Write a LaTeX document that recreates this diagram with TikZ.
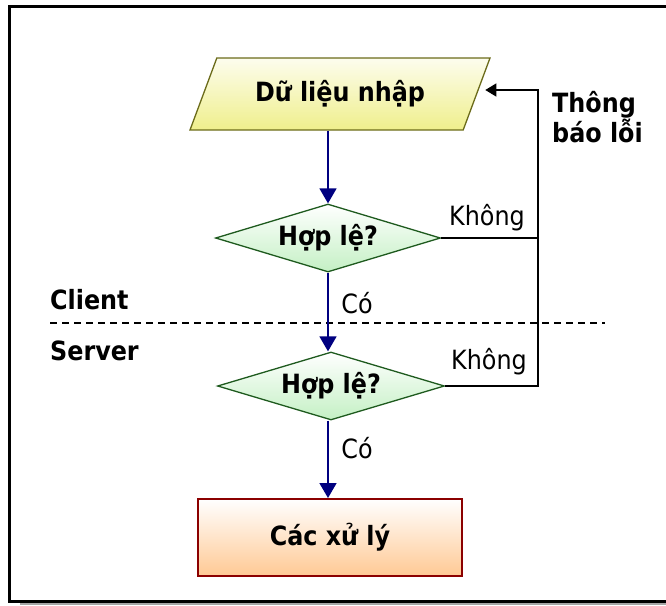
\documentclass[tikz,border=0pt]{standalone}
\usepackage{fontspec}
\setmainfont{DejaVu Sans Condensed}
\usetikzlibrary{shapes.geometric,arrows.meta}
\definecolor{navyc}{HTML}{000080}
\definecolor{olivec}{HTML}{6B6B1A}
\definecolor{yelc}{HTML}{EFEF8C}
\definecolor{grnb}{HTML}{1E5A1E}
\definecolor{grnc}{HTML}{C4F0C4}
\definecolor{redb}{HTML}{8B0000}
\definecolor{peach}{HTML}{FFC994}
\tikzset{
  txt/.style={font=\fontsize{26.5}{30}\selectfont, inner sep=0pt},
  btxt/.style={font=\fontsize{26.5}{30}\selectfont\bfseries, inner sep=0pt},
  inbox/.style={trapezium, trapezium left angle=45, trapezium right angle=135,
    trapezium stretches body, minimum width=300pt, minimum height=72pt, inner sep=0pt,
    draw=olivec, line width=1.3pt, top color=white!85!yelc, bottom color=yelc,
    font=\fontsize{26.5}{30}\selectfont\bfseries},
  decbox/.style={diamond, aspect=3.3, minimum width=225pt, minimum height=68pt, inner sep=0pt,
    draw=grnb, line width=1.3pt, top color=white, bottom color=grnc,
    font=\fontsize{26.5}{30}\selectfont\bfseries},
  procbox/.style={rectangle, minimum width=264pt, minimum height=77pt, inner sep=0pt,
    draw=redb, line width=2pt, top color=white, bottom color=peach,
    font=\fontsize{26.5}{30}\selectfont\bfseries},
  flowarr/.style={draw=navyc, line width=1.6pt, -{Triangle[length=15pt,width=17pt]}},
  backline/.style={draw=black, line width=1.3pt},
  backarr/.style={draw=black, line width=1.3pt, -{Triangle[length=11pt,width=13pt]}},
  sepline/.style={draw=black, line width=1.5pt, dash pattern=on 7pt off 5pt},
}
\begin{document}
\begin{tikzpicture}[x=1pt,y=-1pt]
\useasboundingbox (0,0) rectangle (666,605);
\clip (0,0) rectangle (666,605);
% frame
\draw[gray!70, line width=2pt] (20,604) -- (700,604);
\draw[black, line width=2.2pt] (700,6.5) -- (9.5,6.5) -- (9.5,601.5) -- (700,601.5);
% separator
\coordinate (sepL) at (50,323);
\coordinate (sepR) at (605,323);
\draw[sepline] (sepL) -- (sepR);
\node[btxt, anchor=west] (client) at (50,300) {Client};
\node[btxt, anchor=west] (server) at (50,351) {Server};
% nodes
\node[inbox] (inp) at (340,94) {Dữ liệu nhập};
\node[decbox] (d1) at (328,238) {Hợp lệ?};
\node[decbox, minimum width=227pt] (d2) at (331,386) {Hợp lệ?};
\node[procbox] (proc) at (330,537.5) {Các xử lý};
% flow arrows
\draw[flowarr] (d1.north |- inp.south) -- (d1.north);
\draw[flowarr] (d1.south) -- (d1.south |- d2.north);
\draw[flowarr] (d1.south |- d2.south) -- (d1.south |- proc.north);
\node[txt] (yes1) at (357,303) {Có};
\node[txt] (yes2) at (357,448) {Có};
% feedback
\coordinate (turn) at (538,90);
\draw[backline] (d1.east) -- (d1.east -| turn);
\draw[backarr] (d2.east) -| (turn) -- ([xshift=8pt]inp.east |- turn);
\node[txt] (no1) at (487,218) {Không};
\node[txt] (no2) at (489,362) {Không};
\node[btxt, align=left, anchor=west] (msg) at (552,117) {Thông\\báo lỗi};
\end{tikzpicture}
\end{document}
